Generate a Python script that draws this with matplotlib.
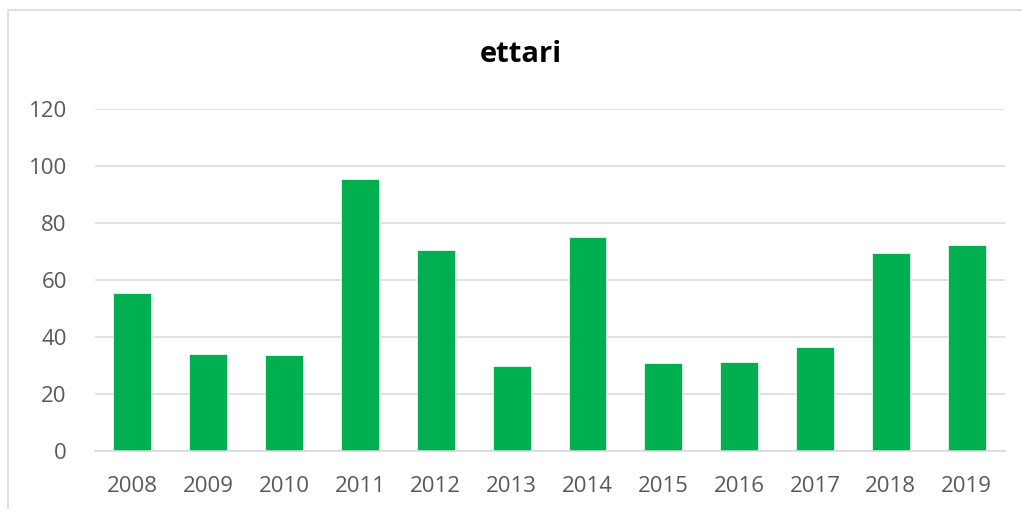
import matplotlib
matplotlib.use('agg')
import matplotlib.pyplot as plt
from matplotlib.patches import Rectangle

plt.rcParams['font.family'] = ['Open Sans', 'DejaVu Sans']

# dati
anni = ['2008', '2009', '2010', '2011', '2012', '2013',
        '2014', '2015', '2016', '2017', '2018', '2019']
ettari = [55.2, 33.9, 33.7, 95.3, 70.3, 29.8, 74.9, 30.9, 31.1, 36.3, 69.4, 72.1]
y_ticks = [0, 20, 40, 60, 80, 100, 120]

verde = '#00B050'
grigio = '#D9D9D9'
testo = '#595959'

fig = plt.figure(figsize=(10.22, 5.09), dpi=100)
ax = fig.add_axes([0.0925, 0.1145, 0.8905, 0.6719])

# cornice del grafico (tagliata a destra e in basso)
fig.patches.append(Rectangle((7.5 / 1022, -0.1), 1.2, 1 - 9.5 / 509 + 0.1,
                             transform=fig.transFigure, fill=False,
                             edgecolor=grigio, linewidth=1.2))

x = range(len(anni))
ax.bar(x, ettari, width=0.5, color=verde, edgecolor='white', linewidth=0.5, zorder=3)

ax.set_xlim(-0.5, len(anni) - 0.5)
ax.set_ylim(0, 120)
ax.set_yticks(y_ticks)
ax.set_xticks(list(x))
ax.set_xticklabels(anni)

ax.grid(axis='y', color=grigio, linewidth=1.1, zorder=0)
for s in ['top', 'right', 'left']:
    ax.spines[s].set_visible(False)
ax.spines['bottom'].set_color(grigio)
ax.spines['bottom'].set_linewidth(1.1)
ax.spines['bottom'].set_zorder(4)

ax.tick_params(axis='both', length=0, labelsize=16, labelcolor=testo)
ax.tick_params(axis='x', pad=18.5)
ax.tick_params(axis='y', pad=20)

fig.text(520.5 / 1022, 1 - 54 / 509, 'ettari', ha='center', va='center',
         fontsize=21, fontweight='bold', color='black')

fig.savefig('out.png', dpi=100)
